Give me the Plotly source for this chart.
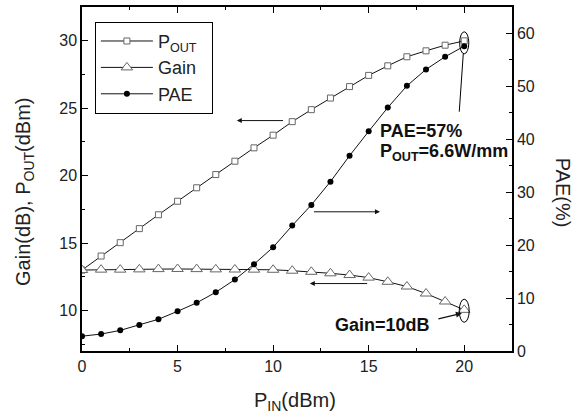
import plotly.graph_objects as go

pin = list(range(0, 21))
pout = [13.0, 14.04, 15.03, 16.07, 17.1, 18.1, 19.1, 20.08, 21.07, 22.06, 23.0,
        24.0, 24.89, 25.75, 26.6, 27.43, 28.14, 28.81, 29.25, 29.67, 29.99]
gain = [13.0, 13.03, 13.03, 13.05, 13.07, 13.08, 13.07, 13.05, 13.04, 13.03, 13.02,
        12.95, 12.87, 12.76, 12.63, 12.44, 12.13, 11.78, 11.26, 10.67, 10.05]
pae = [2.8, 3.2, 3.9, 4.9, 6.0, 7.5, 9.1, 11.1, 13.5, 16.4, 19.6,
       23.7, 27.6, 32.0, 36.9, 41.5, 46.0, 50.1, 53.2, 55.6, 57.6]

FONT = "Liberation Sans, Arial, sans-serif"

fig = go.Figure()
fig.add_trace(go.Scatter(x=pin, y=pout, name="P<sub>OUT</sub>&nbsp;&nbsp;", mode="lines+markers",
                         line=dict(color="#111", width=1),
                         marker=dict(symbol="square", size=6, color="white",
                                     line=dict(color="#666", width=1))))
fig.add_trace(go.Scatter(x=pin, y=gain, name="Gain", mode="lines+markers",
                         line=dict(color="#111", width=1),
                         marker=dict(symbol="triangle-up", size=10, color="white",
                                     line=dict(color="#666", width=1))))
fig.add_trace(go.Scatter(x=pin, y=pae, name="PAE", mode="lines+markers", yaxis="y2",
                         line=dict(color="#111", width=1),
                         marker=dict(symbol="circle", size=6, color="black")))

axis_common = dict(showgrid=False, zeroline=False, showline=True, linecolor="black",
                   linewidth=1.5, ticks="inside", ticklen=6, tickwidth=1.2,
                   tickcolor="black", tickfont=dict(family=FONT, size=16, color="#222"))

fig.update_layout(
    width=575, height=416,
    margin=dict(l=82, r=63, t=5, b=65),
    plot_bgcolor="white", paper_bgcolor="white",
    font=dict(family=FONT, color="#222"),
    xaxis=dict(range=[0, 22.5], dtick=5, tick0=0, mirror="ticks",
               minor=dict(dtick=2.5, ticks="inside", ticklen=3, tickcolor="black"),
               **axis_common),
    yaxis=dict(range=[7, 32.5], dtick=5, tick0=0,
               minor=dict(dtick=2.5, ticks="inside", ticklen=3, tickcolor="black"),
               **axis_common),
    yaxis2=dict(range=[0, 65], dtick=10, tick0=0, overlaying="y", side="right",
                minor=dict(dtick=5, ticks="inside", ticklen=3, tickcolor="black"),
                **axis_common),
    legend=dict(x=0.03, y=0.957, xanchor="left", yanchor="top",
                bordercolor="black", borderwidth=1, bgcolor="white",
                font=dict(family=FONT, size=18, color="#222"),
                itemwidth=52, tracegroupgap=0),
    showlegend=True,
)

# axis titles
fig.add_annotation(text="Gain(dB), P<sub>OUT</sub>(dBm)", xref="paper", yref="paper",
                   x=-0.135, y=0.465, xanchor="center", yanchor="middle",
                   textangle=-90, showarrow=False,
                   font=dict(family=FONT, size=20, color="#222"))
fig.add_annotation(text="PAE(%)", xref="paper", yref="paper",
                   x=1.1186, y=0.46, xanchor="center", yanchor="middle",
                   textangle=90, showarrow=False,
                   font=dict(family=FONT, size=20, color="#222"))
fig.add_annotation(text="P<sub>IN</sub>(dBm)", xref="paper", yref="paper",
                   x=0.496, y=-0.148, xanchor="center", yanchor="middle", showarrow=False,
                   font=dict(family=FONT, size=20, color="#222"))

# direction arrows
fig.add_annotation(x=8.1, y=24.08, ax=10.6, ay=24.08, xref="x", yref="y", axref="x", ayref="y",
                   text="", showarrow=True, arrowhead=2, arrowsize=1, arrowwidth=1, arrowcolor="#111")
fig.add_annotation(x=15.59, y=26.3, ax=12.06, ay=26.3, xref="x", yref="y2", axref="x", ayref="y2",
                   text="", showarrow=True, arrowhead=2, arrowsize=1, arrowwidth=1, arrowcolor="#111")
fig.add_annotation(x=11.92, y=12.0, ax=15.0, ay=12.0, xref="x", yref="y", axref="x", ayref="y",
                   text="", showarrow=True, arrowhead=2, arrowsize=1, arrowwidth=1, arrowcolor="#111")

# ellipses and pointers
fig.add_shape(type="circle", xref="x", yref="y", x0=19.76, x1=20.24, y0=29.03, y1=30.66,
              line=dict(color="black", width=1))
fig.add_shape(type="circle", xref="x", yref="y", x0=19.74, x1=20.26, y0=9.13, y1=10.84,
              line=dict(color="black", width=1))
fig.add_shape(type="line", xref="x", yref="y", x0=19.74, y0=24.74, x1=19.95, y1=29.03,
              line=dict(color="black", width=1))
fig.add_annotation(x=19.88, y=9.8, ax=18.57, ay=9.36, xref="x", yref="y", axref="x", ayref="y",
                   text="", showarrow=True, arrowhead=2, arrowsize=1, arrowwidth=1.2, arrowcolor="#111")

# labels
fig.add_annotation(text="<b>PAE=57%</b>", x=15.48, y=23.33, xref="x", yref="y",
                   xanchor="left", yanchor="middle", showarrow=False,
                   font=dict(family=FONT, size=18, color="#111"))
fig.add_annotation(text="<b>P<sub>OUT</sub>=6.6W/mm</b>", x=15.48, y=21.7, xref="x", yref="y",
                   xanchor="left", yanchor="middle", showarrow=False,
                   font=dict(family=FONT, size=18, color="#111"))
fig.add_annotation(text="<b>Gain=10dB</b>", x=18.3, y=8.9, xref="x", yref="y",
                   xanchor="right", yanchor="middle", showarrow=False,
                   font=dict(family=FONT, size=18, color="#111"))

fig.write_html("out.html", config={"displayModeBar": False},
               post_script="document.body.style.margin='0px';")
